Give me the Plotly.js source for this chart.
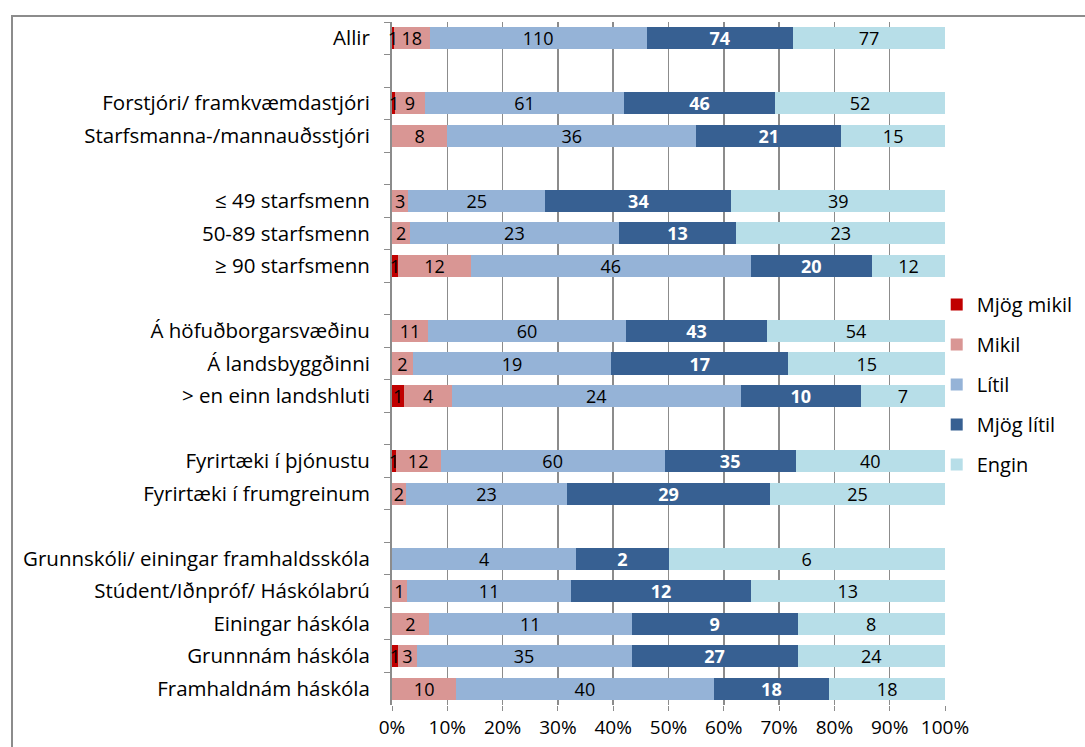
<!DOCTYPE html>
<html>
<head>
<meta charset="utf-8">
<script src="https://cdn.plot.ly/plotly-3.0.1.min.js"></script>
<style>
  body { margin: 0; background: #fff; overflow: hidden; }
  #frame { position: absolute; left: 11px; top: 15px; width: 1200px; height: 900px;
           border-top: 2px solid #8c8c8c; border-left: 2px solid #8c8c8c; }
  #plot { position: absolute; left: 0; top: 0; width: 1085px; height: 747px; }
</style>
</head>
<body>
<div id="frame"></div>
<div id="plot"></div>
<script>
// row labels (blank rows are separators, zero-width spaces keep them unique)
var categories = [
  "Allir", "\u200b",
  "Forstjóri/ framkvæmdastjóri", "Starfsmanna-/mannauðsstjóri", "\u200b\u200b",
  "≤ 49 starfsmenn", "50-89 starfsmenn", "≥ 90 starfsmenn", "\u200b\u200b\u200b",
  "Á höfuðborgarsvæðinu", "Á landsbyggðinni", "> en einn landshluti", "\u200b\u200b\u200b\u200b",
  "Fyrirtæki í þjónustu", "Fyrirtæki í frumgreinum", "\u200b\u200b\u200b\u200b\u200b",
  "Grunnskóli/ einingar framhaldsskóla", "Stúdent/Iðnpróf/ Háskólabrú",
  "Einingar háskóla", "Grunnnám háskóla", "Framhaldnám háskóla"
];

// counts per answer, null on separator rows
var mjogMikil = [1, null, 1, 0, null, 0, 0, 1, null, 0, 0, 1, null, 1, 0, null, 0, 0, 0, 1, 0];
var mikil     = [18, null, 9, 8, null, 3, 2, 12, null, 11, 2, 4, null, 12, 2, null, 0, 1, 2, 3, 10];
var litil     = [110, null, 61, 36, null, 25, 23, 46, null, 60, 19, 24, null, 60, 23, null, 4, 11, 11, 35, 40];
var mjogLitil = [74, null, 46, 21, null, 34, 13, 20, null, 43, 17, 10, null, 35, 29, null, 2, 12, 9, 27, 18];
var engin     = [77, null, 52, 15, null, 39, 23, 12, null, 54, 15, 7, null, 40, 25, null, 6, 13, 8, 24, 18];

var seriesNames = ["Mjög mikil", "Mikil", "Lítil", "Mjög lítil", "Engin"];
var seriesValues = [mjogMikil, mikil, litil, mjogLitil, engin];
var seriesColors = ["#C00000", "#D99694", "#95B3D7", "#376092", "#B7DEE8"];

var font = "'Open Sans', 'Noto Sans', sans-serif";

var data = seriesNames.map(function(name, i) {
  var white = (name === "Mjög lítil");
  var first = (i === 0);
  return {
    type: "bar",
    orientation: "h",
    name: name,
    legendgroup: name,
    y: categories,
    x: seriesValues[i],
    // labels of the thin first segment are drawn as annotations below
    text: seriesValues[i].map(function(v) { return (v && !first) ? String(v) : ""; }),
    texttemplate: "%{text}",
    textposition: "inside",
    insidetextanchor: "middle",
    textangle: 0,
    constraintext: "none",
    insidetextfont: {
      family: font,
      size: 18,
      color: white ? "#ffffff" : "#000000",
      weight: white ? "bold" : "normal"
    },
    marker: { color: seriesColors[i], line: { width: 0 } },
    hoverinfo: "skip"
  };
});

// "Mjög mikil" labels sit on top of everything, centred on their thin segment
var rowTotals = categories.map(function(c, k) {
  return seriesValues.reduce(function(s, arr) { return s + (arr[k] || 0); }, 0);
});
var annotations = [];
mjogMikil.forEach(function(v, k) {
  if (!v) return;
  annotations.push({
    x: v / rowTotals[k] * 50,
    y: categories[k],
    xref: "x",
    yref: "y",
    text: String(v),
    showarrow: false,
    font: { family: font, size: 18, color: "#000000" }
  });
});

var layout = {
  width: 1085,
  height: 747,
  paper_bgcolor: "rgba(0,0,0,0)",
  plot_bgcolor: "rgba(0,0,0,0)",
  margin: { l: 392, r: 140, t: 22, b: 42, autoexpand: false },
  barmode: "stack",
  barnorm: "percent",
  bargap: 0.32,
  uniformtext: { mode: "show", minsize: 18 },
  font: { family: font, size: 18, color: "#000" },
  annotations: annotations,
  xaxis: {
    range: [0, 100],
    dtick: 10,
    ticksuffix: "%",
    showgrid: true,
    gridcolor: "#8c8c8c",
    gridwidth: 1.5,
    zeroline: false,
    showline: false,
    ticks: "outside",
    ticklen: 5,
    tickcolor: "#8c8c8c",
    tickfont: { size: 19 },
    layer: "below traces",
    fixedrange: true
  },
  yaxis: {
    type: "category",
    range: [categories.length - 0.5, -0.5],
    showline: true,
    linecolor: "#8c8c8c",
    linewidth: 2,
    ticks: "outside",
    tickson: "boundaries",
    ticklen: 6,
    tickcolor: "#8c8c8c",
    showgrid: false,
    tickfont: { size: 20.5 },
    ticklabelstandoff: 16,
    layer: "below traces",
    fixedrange: true
  },
  showlegend: true,
  legend: {
    x: 0.985,
    xanchor: "left",
    y: 0.615,
    yanchor: "top",
    bgcolor: "rgba(0,0,0,0)",
    traceorder: "grouped",
    tracegroupgap: 11,
    font: { size: 20 },
    itemwidth: 30
  }
};

Plotly.newPlot("plot", data, layout, { displayModeBar: false, staticPlot: true });
</script>
</body>
</html>
